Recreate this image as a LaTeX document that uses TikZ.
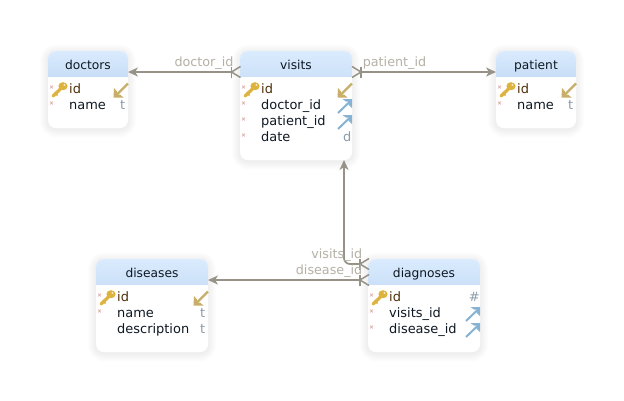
\documentclass[tikz,border=0pt]{standalone}
\usepackage{fontspec}
\setmainfont{DejaVu Sans}
\usetikzlibrary{arrows.meta,calc}
\definecolor{linecol}{HTML}{979287}
\definecolor{labelcol}{HTML}{B5B1A6}
\definecolor{typecol}{HTML}{8A9BAA}
\definecolor{rowcol}{HTML}{0E1823}
\definecolor{keytext}{HTML}{4E3008}
\definecolor{headtop}{HTML}{DAEBFE}
\definecolor{headbot}{HTML}{A3C3E6}
\definecolor{goldcol}{HTML}{C9AE6A}
\definecolor{bluecol}{HTML}{86B3D4}
\definecolor{keycol}{HTML}{DDB23E}
\definecolor{markcol}{HTML}{D9A0A0}
\tikzset{
  tablebox/.style={anchor=north west,inner sep=0pt,outer sep=0pt,fill=white,rounded corners=8bp,
    path picture={\shade[sharp corners,top color=headtop,bottom color=headbot]
      (path picture bounding box.north west) rectangle ([yshift=-25bp]path picture bounding box.north east);}},
  titletext/.style={inner sep=0pt,text=rowcol,font=\fontsize{12.3}{15}\selectfont,anchor=base},
  rowtext/.style={inner sep=0pt,text=rowcol,font=\fontsize{13}{15}\selectfont,anchor=base west},
  typetext/.style={inner sep=0pt,text=typecol,font=\fontsize{13}{15}\selectfont,anchor=base east},
  connlabel/.style={inner sep=0pt,text=labelcol,font=\fontsize{12.8}{15}\selectfont,anchor=base},
  conn/.style={draw=linecol,line width=1.7bp},
  arrowconn/.style={conn,-{Stealth[length=10bp,width=9bp,inset=3bp]}},
}
\newcommand{\tablebx}[6]{% name x y w h title
  \foreach \s in {1,...,8}{
    \pgfmathsetmacro{\rr}{8+\s}
    \fill[black,opacity=.009,rounded corners=\rr bp] (#2-\s,#3-\s+1.5) rectangle (#2+#4+\s,#3+#5+\s+1.5);
  }
  \node[tablebox,minimum width=#4bp,minimum height=#5bp] (#1) at (#2,#3) {};
  \node[titletext] (#1title) at (#2+#4/2,#3+18) {#6};
}
\newcommand{\markx}[2]{\draw[markcol,line width=.6bp] (#1-1.5,#2-1.5) -- (#1+1.5,#2+1.5) (#1-1.5,#2+1.5) -- (#1+1.5,#2-1.5);}
\newcommand{\keyicon}[2]{% x = box left, y = row centre
  \draw[keycol,line width=3.2bp,line cap=round] (#1+14,#2-1.5) -- (#1+5,#2+7);
  \draw[keycol,line width=1.6bp] (#1+7,#2+4) -- (#1+9.5,#2+6.5);
  \fill[keycol] (#1+15,#2-2.8) ellipse (4.6bp and 4bp);
  \fill[white!70!keycol] (#1+16.5,#2-4) circle (1.1bp);
}
\newcommand{\pkicon}[2]{% right edge, y centre
  \draw[goldcol,line width=2.2bp] (#1,#2-6.5) -- (#1-12,#2+5.5);
  \fill[goldcol] (#1-14.5,#2+7.5) -- (#1-14,#2-2) -- (#1-11,#2+1.5) -- (#1-11,#2+4.5) -- (#1-8,#2+4.5) -- (#1-4.5,#2+7.5) -- cycle;
}
\newcommand{\fkicon}[2]{%
  \draw[bluecol,line width=2bp] (#1-14,#2+7) -- (#1-2,#2-4.5);
  \fill[bluecol] (#1,#2-7) -- (#1-9.5,#2-7) -- (#1-6,#2-4.5) -- (#1-3.5,#2-4.5) -- (#1-3.5,#2-1.5) -- (#1,#2+2) -- cycle;
}
\newcommand{\crowL}[2]{% foot opening towards the right (box on right): tip x at #1
  \draw[conn,line width=1.5bp] (#1+9,#2-5.5) -- (#1,#2) -- (#1+9,#2+5.5);
  \draw[conn,line width=1.5bp] (#1,#2-5.5) -- (#1,#2+5.5);
}
\newcommand{\crowR}[2]{%
  \draw[conn,line width=1.5bp] (#1-9,#2-5.5) -- (#1,#2) -- (#1-9,#2+5.5);
  \draw[conn,line width=1.5bp] (#1,#2-5.5) -- (#1,#2+5.5);
}
\begin{document}
\begin{tikzpicture}[x=1bp,y=-1bp]
\useasboundingbox (0,0) rectangle (624,400);
\fill[white] (0,0) rectangle (624,400);

\tablebx{doctors}{48}{51}{80}{77}{doctors}
\tablebx{visits}{240}{51}{112}{109}{visits}
\tablebx{patient}{496}{51}{80}{77}{patient}
\tablebx{diseases}{96}{259}{112}{93}{diseases}
\tablebx{diagnoses}{368}{259}{112}{93}{diagnoses}

% doctors
\keyicon{48}{89}\markx{51.5}{87}\markx{51.5}{103}
\node[rowtext,text=keytext] (docid) at (69,93.5) {id};
\node[rowtext] (docname) at (69,109.5) {name};
\node[typetext] (docnamet) at (125.5,109.5) {t};
\pkicon{128}{90}
% visits
\keyicon{240}{89}\markx{243.5}{87}\markx{243.5}{103}\markx{243.5}{119}\markx{243.5}{135}
\node[rowtext,text=keytext] (visid) at (261,93.5) {id};
\node[rowtext] (visdoc) at (261,109.5) {doctor\_id};
\node[rowtext] (vispat) at (261,125.5) {patient\_id};
\node[rowtext] (visdate) at (261,141.5) {date};
\node[typetext] (visdatet) at (351.5,141.5) {d};
\pkicon{352}{90}\fkicon{352}{106}\fkicon{352}{122}
% patient
\keyicon{496}{89}\markx{499.5}{87}\markx{499.5}{103}
\node[rowtext,text=keytext] (patid) at (517,93.5) {id};
\node[rowtext] (patname) at (517,109.5) {name};
\node[typetext] (patnamet) at (573.5,109.5) {t};
\pkicon{576}{90}
% diseases
\keyicon{96}{297}\markx{99.5}{295}\markx{99.5}{311}
\node[rowtext,text=keytext] (disid) at (117,301.5) {id};
\node[rowtext] (disname) at (117,317.5) {name};
\node[rowtext] (disdesc) at (117,333.5) {description};
\node[typetext] (disnamet) at (205.5,317.5) {t};
\node[typetext] (disdesct) at (205.5,333.5) {t};
\pkicon{208}{298}
% diagnoses
\keyicon{368}{297}\markx{371.5}{295}\markx{371.5}{311}\markx{371.5}{327}
\node[rowtext,text=keytext] (diaid) at (389,301.5) {id};
\node[rowtext] (diavis) at (389,317.5) {visits\_id};
\node[rowtext] (diadis) at (389,333.5) {disease\_id};
\node[typetext] (diaidt) at (480,301.5) {\#};
\fkicon{480}{314}\fkicon{480}{330}

% connectors
\draw[arrowconn] ($(visits.north west)+(-8,21)$) -- ($(doctors.north east)+(0,21)$);
\crowL{231.5}{72}
\draw[arrowconn] ($(visits.north east)+(9,21)$) -- ($(patient.north west)+(0,21)$);
\crowR{361}{72}
\draw[arrowconn,rounded corners=6bp] ($(diagnoses.north west)+(-8,5)$) -| ($(visits.south west)+(104,0)$);
\crowL{360}{264}
\draw[arrowconn] ($(diagnoses.north west)+(-8,21)$) -- ($(diseases.north east)+(0,21)$);
\crowL{360}{280}

\node[connlabel] (ldoc) at (204,66.5) {doctor\_id};
\node[connlabel] (lpat) at (394.5,66.5) {patient\_id};
\node[connlabel,anchor=base east] (lvis) at (362.5,258.5) {visits\_id};
\node[connlabel,anchor=base east] (ldis) at (362.5,274.5) {disease\_id};
\end{tikzpicture}
\end{document}
